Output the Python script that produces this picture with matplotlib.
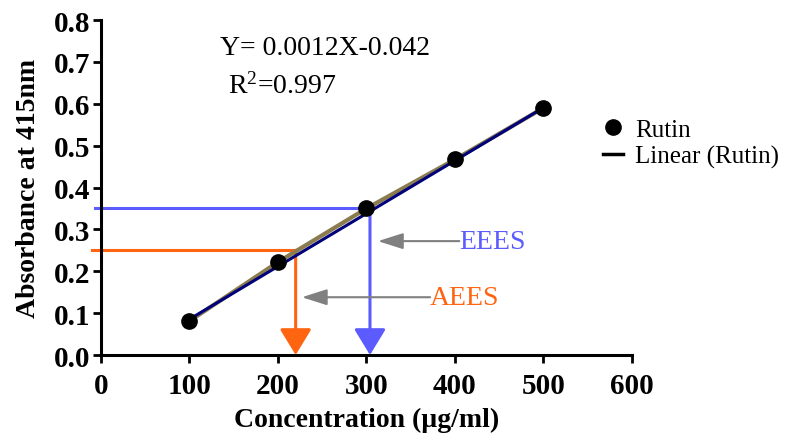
import numpy as np
import matplotlib
matplotlib.use('Agg')
import matplotlib.pyplot as plt
from matplotlib.lines import Line2D

# data
conc = [100, 200, 300, 400, 500]
absorb = [0.081, 0.222, 0.350, 0.467, 0.590]
x_ticks = [0, 100, 200, 300, 400, 500, 600]
y_ticks = [0.0, 0.1, 0.2, 0.3, 0.4, 0.5, 0.6, 0.7, 0.8]
eees_abs, eees_conc = 0.35, 304
aees_abs, aees_conc = 0.25, 220

BLUE = '#5b5bff'
ORANGE = '#ff6410'
GRAY = '#808080'
NAVY = '#00007a'
OLIVE = '#8a7c4e'

plt.rcParams.update({
    'font.family': ['Liberation Serif', 'DejaVu Serif'],
    'mathtext.fontset': 'custom',
    'mathtext.rm': 'Liberation Serif',
    'mathtext.default': 'regular',
})

fig = plt.figure(figsize=(8.08, 4.35), dpi=100)
ax = fig.add_axes([0.125, 0.1816, 0.657, 0.770])

# trend + data
ax.plot(conc, absorb, color=OLIVE, lw=3.0, zorder=3)
coef = np.polyfit(conc, absorb, 1)
xs = np.array([conc[0], conc[-1]])
ax.plot(xs, np.polyval(coef, xs) - 0.004, color=NAVY, lw=2.2, zorder=4)
ax.plot(conc, absorb, 'o', color='black', ms=11, zorder=5)

# guide lines with arrows
for a, c, col, x0 in [(eees_abs, eees_conc, BLUE, -7), (aees_abs, aees_conc, ORANGE, -10)]:
    ax.plot([x0, c], [a, a], color=col, lw=2.2, clip_on=False, zorder=2)
    ax.annotate('', xy=(c, 0.0), xytext=(c, a),
                arrowprops=dict(arrowstyle='-|>,head_length=1.15,head_width=0.7',
                                color=col, lw=2.2, shrinkA=0, shrinkB=0,
                                mutation_scale=14),
                zorder=2)

# gray pointer arrows with labels
ax.annotate('', xy=(313, 0.272), xytext=(405, 0.272),
            arrowprops=dict(arrowstyle='-|>,head_length=1.1,head_width=0.35',
                            color=GRAY, lw=1.5, shrinkA=0, shrinkB=0, mutation_scale=14))
ax.text(405, 0.272, 'EEES', color=BLUE, fontsize=20, va='center', ha='left')
ax.annotate('', xy=(227, 0.138), xytext=(372, 0.138),
            arrowprops=dict(arrowstyle='-|>,head_length=1.1,head_width=0.35',
                            color=GRAY, lw=1.5, shrinkA=0, shrinkB=0, mutation_scale=14))
ax.text(372, 0.138, 'AEES', color=ORANGE, fontsize=20, va='center', ha='left')

# equation
ax.text(134, 0.735, 'Y= 0.0012X-0.042', fontsize=20, va='center', ha='left')
ax.text(143, 0.645, r'R$^2$=0.997', fontsize=20, va='center', ha='left')

ax.set_xlim(0, 600)
ax.set_ylim(0, 0.8)
ax.set_xticks(x_ticks)
ax.set_yticks(y_ticks)
ax.set_xticklabels([str(v) for v in x_ticks], fontweight='bold', fontsize=21)
ax.set_yticklabels(['%.1f' % v for v in y_ticks], fontweight='bold', fontsize=21)
ax.tick_params(direction='out', length=6, width=2, pad=2)
ax.tick_params(axis='x', pad=6)
for s in ['top', 'right']:
    ax.spines[s].set_visible(False)
for s in ['left', 'bottom']:
    ax.spines[s].set_linewidth(2.2)

ax.set_xlabel('Concentration (\u00b5g/ml)', fontweight='bold', fontsize=20, labelpad=6)
ax.set_ylabel('Absorbance at 415nm', fontweight='bold', fontsize=20, labelpad=9)

handles = [Line2D([], [], marker='o', color='black', ls='none', ms=11),
           Line2D([], [], color='black', lw=2.5)]
fig.legend(handles, ['Rutin', 'Linear (Rutin)'], loc='upper left',
           bbox_to_anchor=(0.718, 0.777), frameon=False, fontsize=18,
           handlelength=0.8, handletextpad=0.5, labelspacing=0.15)

fig.savefig('out.png', dpi=100)
